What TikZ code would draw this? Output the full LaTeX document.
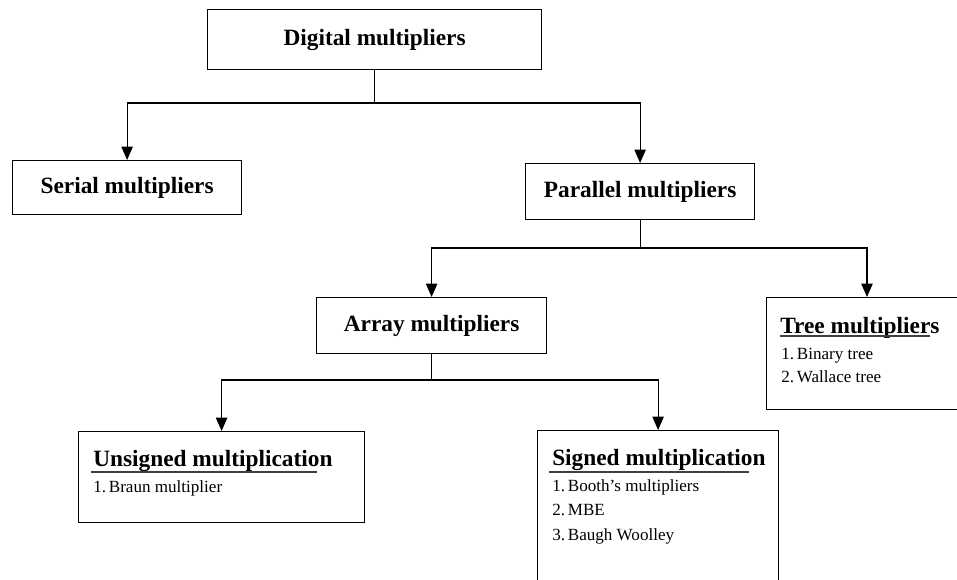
\documentclass[tikz,border=0pt]{standalone}
\usepackage{fontspec}
\setmainfont{Liberation Serif}
\usetikzlibrary{arrows.meta}

\tikzset{
  box/.style={draw, line width=0.9pt, rectangle, anchor=north west, inner sep=0pt},
  mainbox/.style={box, font=\fontsize{17.5}{20}\selectfont\bfseries},
  head/.style={font=\fontsize{17.5}{20}\selectfont\bfseries, inner sep=0pt, anchor=base west},
  item/.style={font=\fontsize{12.8}{15}\selectfont, inner sep=0pt, anchor=base west},
  link/.style={line width=0.9pt},
  arr/.style={link, -{Triangle[length=10pt,width=8.5pt]}},
  uline/.style={line width=0.8pt, black!75}
}

\begin{document}
\begin{tikzpicture}[x=0.75pt, y=-0.75pt]
\useasboundingbox (0,0) rectangle (957,579);

% Upper boxes
\node[mainbox, minimum width=250.5pt, minimum height=45pt] (digital) at (207,9) {Digital multipliers};
\node[mainbox, minimum width=171.75pt, minimum height=40.5pt] (serial) at (12,160) {Serial multipliers};
\node[mainbox, minimum width=171.75pt, minimum height=42pt] (parallel) at (525,163) {Parallel multipliers};
\node[mainbox, minimum width=172.5pt, minimum height=42pt] (array) at (316,297) {Array multipliers};

% Boxes with lists
\node[box, minimum width=150pt, minimum height=84pt] (tree) at (766,297) {};
\node[head] (treehead) at (780,333) {Tree multipliers};
\draw[uline] (780,336) -- (930,336);
\node[item] (tree1) at (781,359) {1.\,Binary tree};
\node[item] (tree2) at (781,382) {2.\,Wallace tree};

\node[box, minimum width=214.5pt, minimum height=68.25pt] (unsigned) at (78,431) {};
\node[head] (unshead) at (93,466) {Unsigned multiplication};
\draw[uline] (91,472) -- (317,472);
\node[item] (uns1) at (93,492) {1.\,Braun multiplier};

\node[box, minimum width=180.75pt, minimum height=120pt] (signed) at (537,430) {};
\node[head] (sighead) at (552,465) {Signed multiplication};
\draw[uline] (549,472) -- (749,472);
\node[item] (sig1) at (552,491) {1.\,Booth's multipliers};
\node[item] (sig2) at (552,515) {2.\,MBE};
\node[item] (sig3) at (552,540) {3.\,Baugh Woolley};

% Arrows between blocks
\coordinate (dj) at (digital.south |- 0,103);
\draw[link] (digital.south) -- (dj);
\draw[arr] (dj) -| (serial.north);
\draw[arr] (dj) -| (parallel.north);

\coordinate (pj) at (parallel.south |- 0,248);
\coordinate (treetop) at (867,297);
\draw[link] (parallel.south) -- (pj);
\draw[arr] (pj) -| (array.north);
\draw[arr] (pj) -| (treetop);

\coordinate (aj) at (array.south |- 0,380);
\draw[link] (array.south) -- (aj);
\draw[arr] (aj) -| (unsigned.north);
\draw[arr] (aj) -| (signed.north);

\end{tikzpicture}
\end{document}
